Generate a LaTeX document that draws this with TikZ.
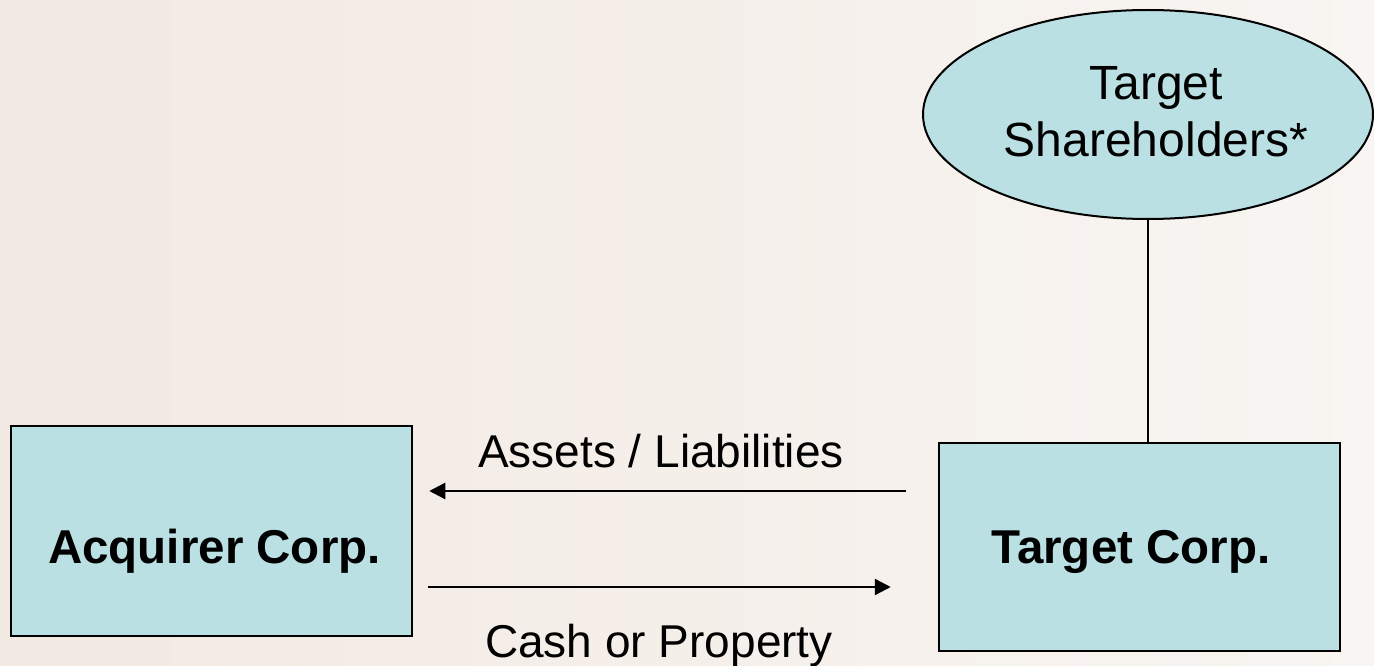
\documentclass[tikz,border=0pt]{standalone}
\usepackage{fontspec}
\setmainfont{Liberation Sans}
\usetikzlibrary{arrows.meta,shapes.geometric}
\definecolor{bgleft}{RGB}{242,233,226}
\definecolor{bgright}{RGB}{248,245,242}
\definecolor{boxfill}{RGB}{186,224,227}
\tikzset{
  corpbox/.style={draw=black, line width=2.5pt, fill=boxfill, rectangle, inner sep=0pt},
  holder/.style={draw=black, line width=2pt, fill=boxfill, ellipse, inner sep=0pt},
  bigtext/.style={font=\fontsize{46}{57}\selectfont, inner sep=0pt, anchor=base},
  shtext/.style={font=\fontsize{48}{57}\selectfont, inner sep=0pt, anchor=base},
  boldtext/.style={font=\fontsize{47.5}{57}\selectfont\bfseries, inner sep=0pt, anchor=base},
  flow/.style={line width=2.4pt, -{Triangle[length=16pt,width=16pt]}},
  link/.style={line width=2.4pt}
}
\begin{document}
\begin{tikzpicture}[x=1pt,y=-1pt]
\shade[left color=bgleft, right color=bgright] (0,0) rectangle (1374,666);
\useasboundingbox (0,0) rectangle (1374,666);
\node[corpbox, minimum width=401pt, minimum height=210pt] (ac) at (211.5,531) {};
\node[corpbox, minimum width=401pt, minimum height=208pt] (tc) at (1139.5,547) {};
\node[holder, minimum width=450pt, minimum height=209pt] (sh) at (1148,114.5) {};
\node[boldtext] (actext) at (214.5,563) {Acquirer Corp.};
\node[boldtext] (tctext) at (1131,563) {Target Corp.};
\node[shtext] (shtext1) at (1156,100) {Target};
\node[shtext] (shtext2) at (1156,157) {Shareholders*};
\coordinate (a1) at (0,491);
\coordinate (a2) at (0,587);
\draw[flow, shorten <=32pt, shorten >=16pt] (tc.west |- a1) -- (ac.east |- a1);
\draw[flow, shorten <=15pt, shorten >=47pt] (ac.east |- a2) -- (tc.west |- a2);
\draw[link] (sh.south) -- (sh.south |- tc.north);
\node[bigtext] (lab1) at (661,467) {Assets / Liabilities};
\node[bigtext] (lab2) at (659,657) {Cash or Property};
\end{tikzpicture}
\end{document}
